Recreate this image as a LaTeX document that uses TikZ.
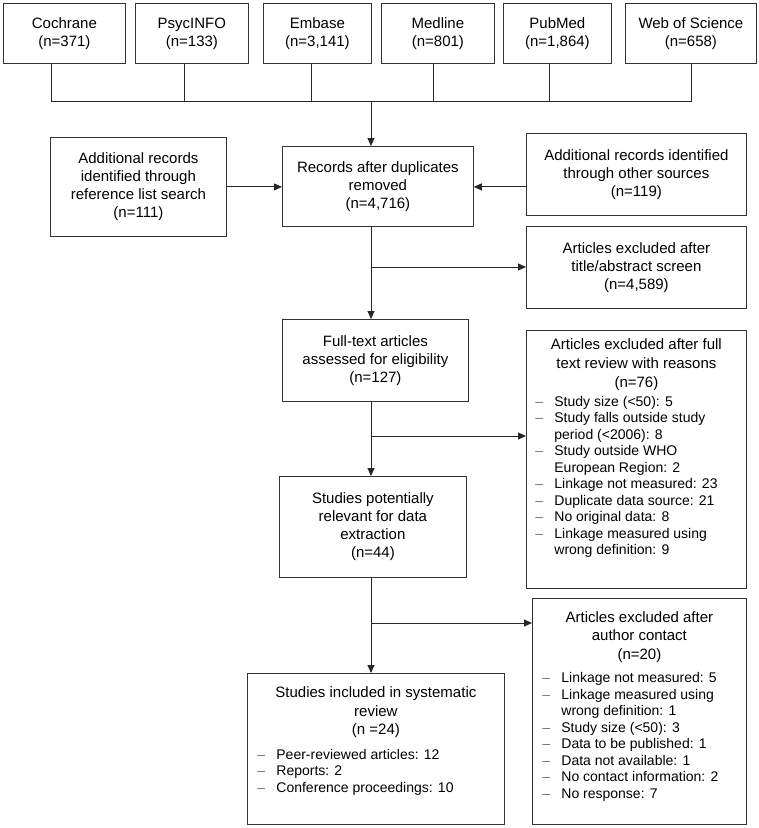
\documentclass[tikz,border=0pt]{standalone}
\usepackage{fontspec}
\setmainfont{Liberation Sans}
\usetikzlibrary{arrows.meta}
\newcommand{\litem}[1]{\par\hangindent=19pt\hangafter=1\noindent\makebox[19pt][l]{\textcolor{black!55}{–}}#1}
\newcommand{\listfont}{\fontsize{14}{16.5}\selectfont}
\begin{document}
\begin{tikzpicture}[x=1pt,y=-1pt,
  box/.style={draw=black!80, line width=0.8pt, rectangle, inner sep=0pt, anchor=north west, align=center, font=\fontsize{15}{18}\selectfont},
  conn/.style={draw=black!85, line width=0.9pt},
  arr/.style={conn, -{Triangle[length=8pt,width=7pt]}}]
\useasboundingbox[fill=white] (0,0) rectangle (759,828);

% database boxes
\node[box, minimum width=122pt, minimum height=60pt] (coch) at (3,3) {Cochrane\\(n=371)};
\node[box, minimum width=113pt, minimum height=60pt] (psyc) at (135,3) {PsycINFO\\(n=133)};
\node[box, minimum width=108pt, minimum height=60pt] (emb) at (263,3) {Embase\\(n=3,141)};
\node[box, minimum width=113pt, minimum height=60pt] (med) at (381,3) {Medline\\(n=801)};
\node[box, minimum width=108pt, minimum height=60pt] (pub) at (503,3) {PubMed\\(n=1,864)};
\node[box, minimum width=131pt, minimum height=60pt] (wos) at (625,3) {Web of Science\\(n=658)};

% flow boxes
\node[box, minimum width=176pt, minimum height=99pt] (left) at (50,137) {Additional records\\identified through\\reference list search\\(n=111)};
\node[box, minimum width=191pt, minimum height=80pt] (rec) at (282,146) {Records after duplicates\\removed\\(n=4,716)};
\node[box, minimum width=220pt, minimum height=82pt] (right) at (526,133) {Additional records identified\\through other sources\\(n=119)};
\node[box, minimum width=220pt, minimum height=82pt] (title) at (526,226) {Articles excluded after\\title/abstract screen\\(n=4,589)};
\node[box, minimum width=186pt, minimum height=82pt] (full) at (282,319) {Full-text articles\\assessed for eligibility\\(n=127)};
\node[box, minimum width=187pt, minimum height=101pt] (pot) at (279,476) {Studies potentially\\relevant for data\\extraction\\(n=44)};

\node[box, minimum width=220pt, minimum height=258pt] (review) at (526,330) {\parbox{202pt}{\fontsize{15}{19}\selectfont\centering
  Articles excluded after full\\text review with reasons\\(n=76)\par\vspace{2pt}\raggedright\listfont
  \litem{Study size (<50): 5}
  \litem{Study falls outside study\newline period (<2006): 8}
  \litem{Study outside WHO\newline European Region: 2}
  \litem{Linkage not measured: 23}
  \litem{Duplicate data source: 21}
  \litem{No original data: 8}
  \litem{Linkage measured using\newline wrong definition: 9}\par\vspace*{22pt}}};

\node[box, minimum width=214pt, minimum height=226pt] (author) at (532,598) {\parbox{194pt}{\fontsize{15}{18.5}\selectfont\centering
  Articles excluded after\\author contact\\(n=20)\par\vspace{7pt}\raggedright\listfont
  \litem{Linkage not measured: 5}
  \litem{Linkage measured using\newline wrong definition: 1}
  \litem{Study size (<50): 3}
  \litem{Data to be published: 1}
  \litem{Data not available: 1}
  \litem{No contact information: 2}
  \litem{No response: 7}\par\vspace*{10pt}}};

\node[box, minimum width=257pt, minimum height=151pt] (incl) at (247,673) {\parbox{237pt}{\fontsize{15}{18.5}\selectfont\centering
  Studies included in systematic\\review\\(n =24)\par\vspace{8pt}\raggedright\listfont
  \litem{Peer-reviewed articles: 12}
  \litem{Reports: 2}
  \litem{Conference proceedings: 10}\par\vspace*{16pt}}};

% merge of databases
\coordinate (hub) at (371,101);
\draw[conn] ([xshift=-13pt]coch.south) |- ([xshift=0.5pt]wos.south |- hub) -- ([xshift=0.5pt]wos.south);
\draw[conn] ([xshift=-7.5pt]psyc.south) -- ([xshift=-7.5pt]psyc.south |- hub);
\draw[conn] ([xshift=-6pt]emb.south) -- ([xshift=-6pt]emb.south |- hub);
\draw[conn] ([xshift=-4.5pt]med.south) -- ([xshift=-4.5pt]med.south |- hub);
\draw[conn] ([xshift=-8pt]pub.south) -- ([xshift=-8pt]pub.south |- hub);
\draw[arr] (hub) -- (hub |- rec.north);

% side inputs
\draw[arr] (left.east) -- (left.east -| rec.west);
\draw[arr] (right.west |- left.east) -- (left.east -| rec.east);

% main flow
\coordinate (b1) at (371,267);
\coordinate (b2) at (371,436);
\coordinate (b3) at (371,623);
\draw[arr] (hub |- rec.south) -- (hub |- full.north);
\draw[arr] (b1) -- (b1 -| title.west);
\draw[arr] (hub |- full.south) -- (hub |- pot.north);
\draw[arr] (b2) -- (b2 -| review.west);
\draw[arr] (hub |- pot.south) -- (hub |- incl.north);
\draw[arr] (b3) -- (b3 -| author.west);
\end{tikzpicture}
\end{document}
